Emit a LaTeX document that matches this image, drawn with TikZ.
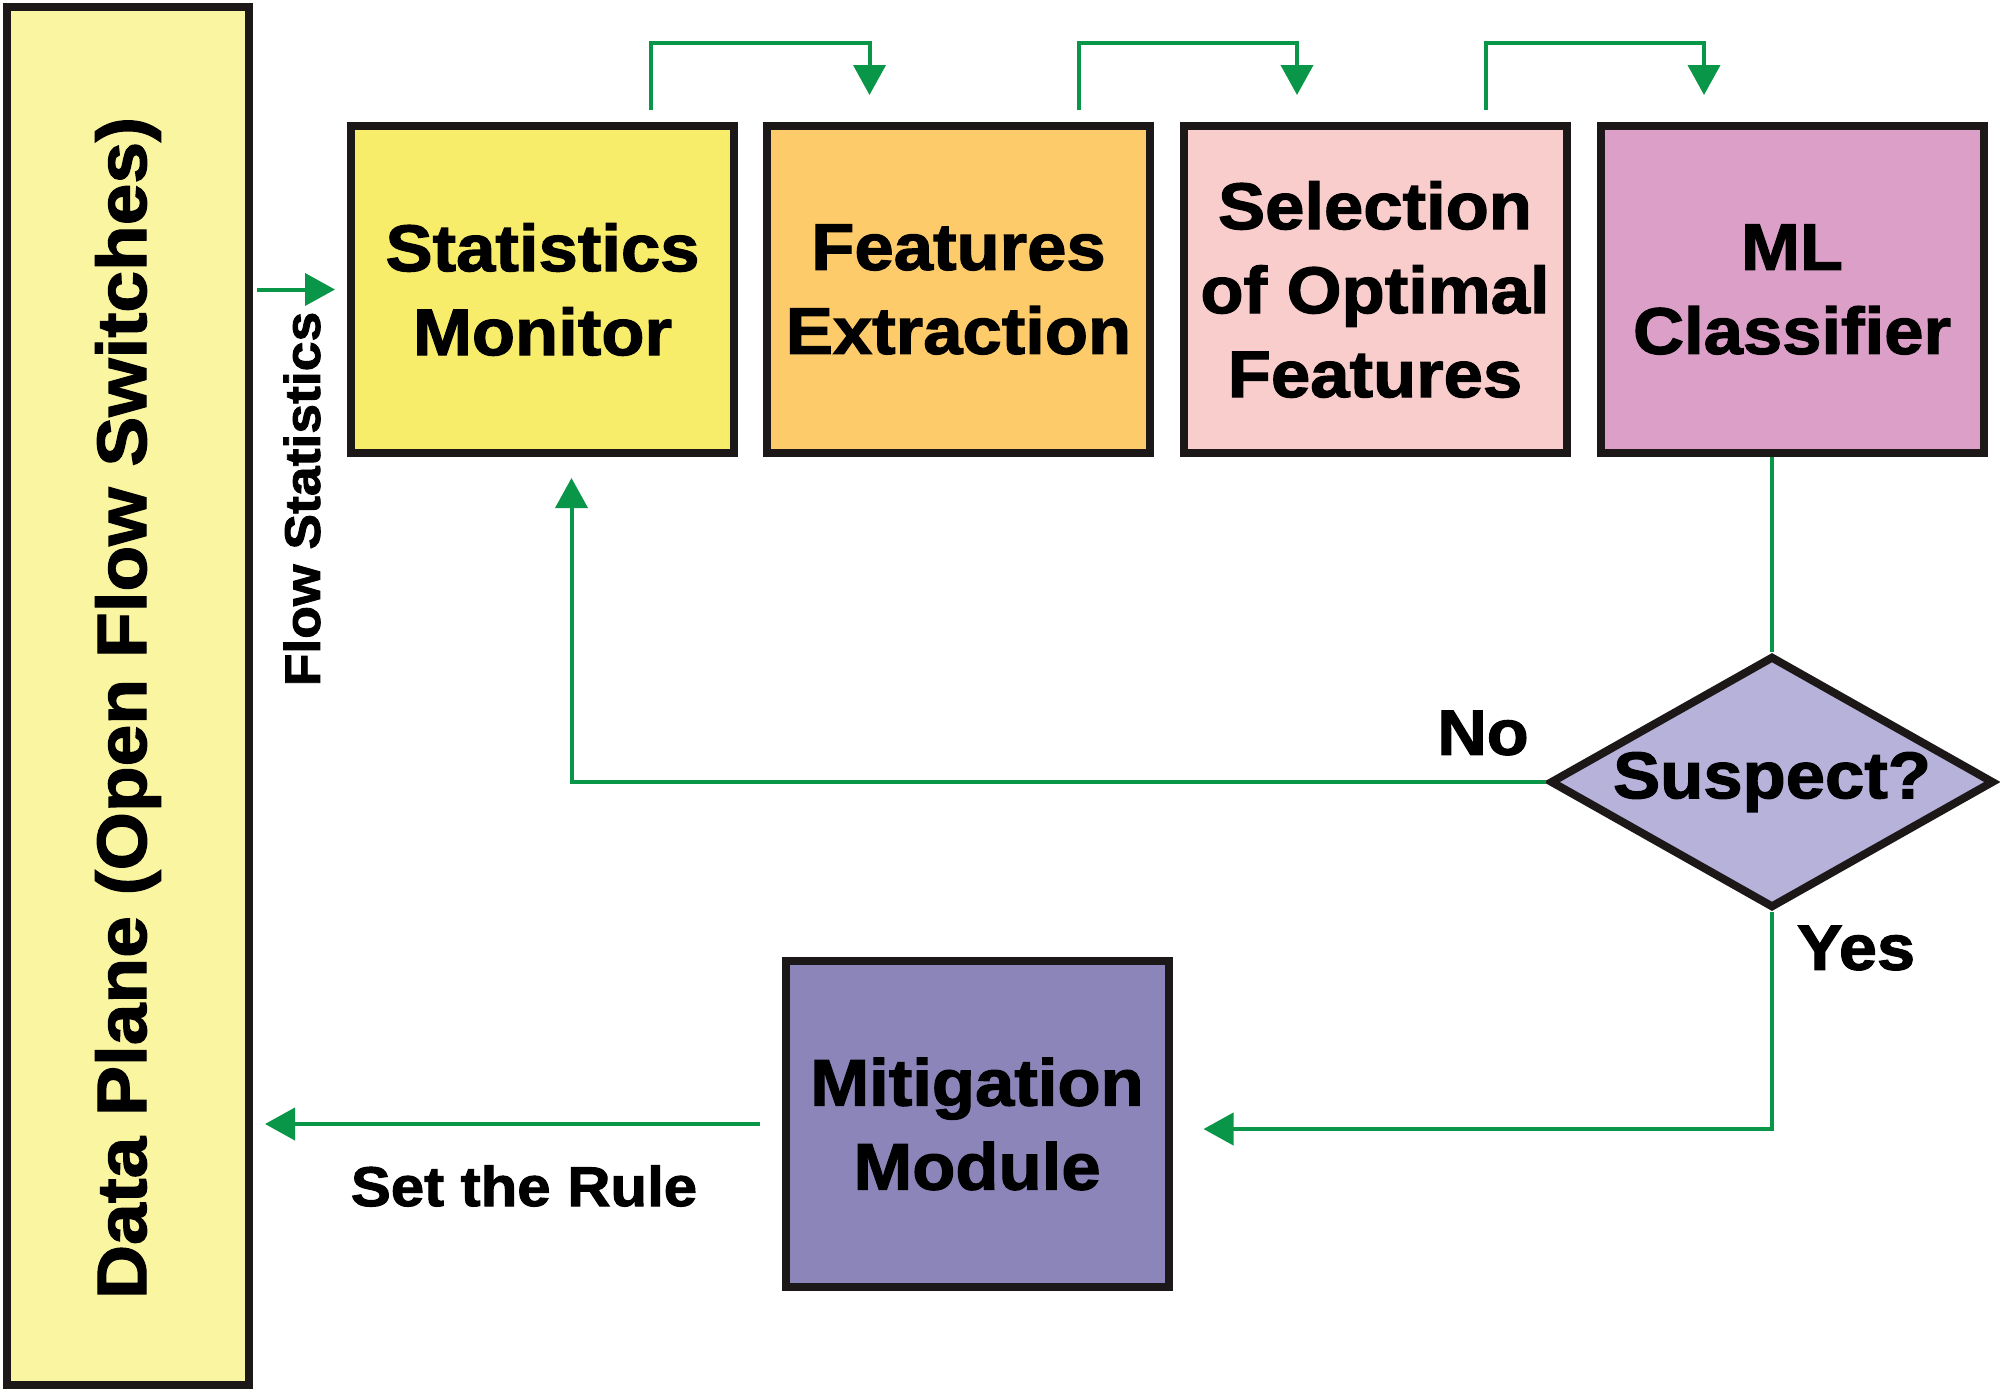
\documentclass[tikz,border=0pt]{standalone}
\usepackage{fontspec}
\usetikzlibrary{arrows.meta,shapes.geometric}
\newfontfamily\heavyfont{Liberation Sans}[FakeStretch=1.07,BoldFeatures={FakeBold=1.8}]

\definecolor{boxline}{RGB}{28,24,24}
\definecolor{flowgreen}{RGB}{10,150,72}
\definecolor{planefill}{RGB}{250,245,160}
\definecolor{monfill}{RGB}{247,237,107}
\definecolor{featfill}{RGB}{253,203,105}
\definecolor{selfill}{RGB}{250,205,205}
\definecolor{mlfill}{RGB}{220,160,200}
\definecolor{suspfill}{RGB}{183,178,218}
\definecolor{mitfill}{RGB}{140,133,185}

\tikzset{
  box/.style={draw=boxline, line width=4pt, inner sep=0pt, align=center,
    minimum width=191.5pt, minimum height=163.5pt,
    font=\heavyfont\bfseries\fontsize{33}{42}\selectfont},
  decision/.style={diamond, draw=boxline, line width=4pt, inner sep=0pt, aspect=1.76,
    minimum width=222pt, minimum height=126pt,
    font=\heavyfont\bfseries\fontsize{33}{40}\selectfont},
  lbl/.style={inner sep=0pt, font=\heavyfont\bfseries\fontsize{32}{38}\selectfont},
  link/.style={draw=flowgreen, line width=2pt},
  flow/.style={link, -{Triangle[length=15pt,width=16pt]}},
}

\begin{document}
\begin{tikzpicture}[x=0.5pt,y=-0.5pt]
\useasboundingbox (0,0) rectangle (2000,1392);

%Shape: Rectangle [data plane]
\node[box, fill=planefill, minimum width=121pt, minimum height=689pt] (data) at (128,696) {};
% Text Node
\node[lbl, rotate=90, font=\heavyfont\bfseries\fontsize{35}{40}\selectfont] (datatext) at (128,708) {Data Plane (Open Flow Switches)};

%Shape: Rectangle [pipeline]
\node[box, fill=monfill] (mon) at (542.5,289.5) {Statistics\\Monitor};
\node[box, fill=featfill] (feat) at (958.5,289.5) {Features\\Extraction};
\node[box, fill=selfill] (sel) at (1375,289.5) {Selection\\of Optimal\\Features};
\node[box, fill=mlfill] (ml) at (1792,289.5) {ML\\Classifier};

%Shape: Diamond
\node[decision, fill=suspfill] (susp) at (1772,782) {Suspect?};

%Shape: Rectangle [mitigation]
\node[box, fill=mitfill, minimum height=163pt] (mit) at (977,1124) {Mitigation\\Module};

%Straight Lines [top hops]
\draw[flow] ([xshift=54pt,yshift=6pt]mon.north) -- ++(0,-67) -| ([xshift=-44.5pt,yshift=13.5pt]feat.north);
\draw[flow] ([xshift=60pt,yshift=6pt]feat.north) -- ++(0,-67) -| ([xshift=-39pt,yshift=13.5pt]sel.north);
\draw[flow] ([xshift=55.5pt,yshift=6pt]sel.north) -- ++(0,-67) -| ([xshift=-44pt,yshift=13.5pt]ml.north);

%Straight Lines [flow statistics]
\draw[flow] ([xshift=2pt]data.east |- mon.west) -- ([xshift=-6pt]mon.west);
% Text Node
\node[lbl, rotate=90, font=\heavyfont\bfseries\fontsize{25}{30}\selectfont] (flowtext) at (302,499) {Flow Statistics};

%Straight Lines [classifier to decision]
\draw[link] (ml.south -| susp.north) -- (susp.north);

%Straight Lines [no branch]
\draw[flow] (susp.west) -| ([xshift=14.5pt,yshift=-10.5pt]mon.south);
% Text Node
\node[lbl] (notext) at (1483,733) {No};

%Straight Lines [yes branch]
\draw[flow] (susp.south) |- ([xshift=15.5pt,yshift=-2.5pt]mit.east);
% Text Node
\node[lbl] (yestext) at (1856,948) {Yes};

%Straight Lines [set the rule]
\draw[flow] ([xshift=-11pt]mit.west) -- ([xshift=6pt]data.east |- mit.west);
% Text Node
\node[lbl, font=\heavyfont\bfseries\fontsize{28}{32}\selectfont] (ruletext) at (524,1186) {Set the Rule};

\end{tikzpicture}
\end{document}
